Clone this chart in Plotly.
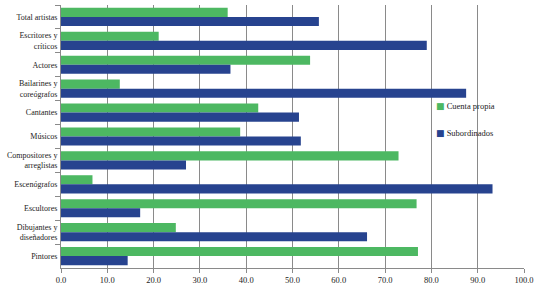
import plotly.graph_objects as go

categories = ["Total artistas", "Escritores y<br>críticos", "Actores", "Bailarines y<br>coreógrafos",
              "Cantantes", "Músicos", "Compositores y<br>arreglistas", "Escenógrafos",
              "Escultores", "Dibujantes y<br>diseñadores", "Pintores"]
cuenta_propia = [36.0, 21.1, 53.8, 12.7, 42.6, 38.7, 72.9, 6.8, 76.8, 24.8, 77.1]
subordinados = [55.7, 79.0, 36.6, 87.5, 51.4, 51.8, 27.0, 93.2, 17.1, 66.1, 14.4]
series_names = ["Cuenta propia", "Subordinados"]
colors = ["#4DB862", "#27438F"]
x_ticks = [0, 10, 20, 30, 40, 50, 60, 70, 80, 90, 100]

fig = go.Figure()
for name, vals, col in zip(series_names, [cuenta_propia, subordinados], colors):
    fig.add_trace(go.Bar(y=categories, x=vals, orientation="h", name=name,
                         marker=dict(color=col, line=dict(width=0)), showlegend=False))

# legend drawn as annotations (small square + label), matching the reference style
for i, (name, col) in enumerate(zip(series_names, colors)):
    fig.add_annotation(xref="paper", yref="paper", x=0.805, y=0.615 - i * 0.103,
                       xanchor="left", yanchor="middle", showarrow=False,
                       text=f"<span style='color:{col};font-family:DejaVu Sans;font-size:9px'>■</span> {name}",
                       font=dict(family="Liberation Serif", size=8.5, color="#222222"))

fig.update_layout(
    width=542, height=302,
    margin=dict(l=61, r=18, t=5, b=34),
    barmode="group", bargap=0.24, bargroupgap=0,
    plot_bgcolor="white", paper_bgcolor="white",
    font=dict(family="Liberation Serif", size=8, color="#222222"),
    showlegend=False, hovermode=False,
    xaxis=dict(range=[0, 100], tickvals=x_ticks, ticktext=[f"{v:.1f}" for v in x_ticks],
               showgrid=True, gridcolor="#8a8a8a", gridwidth=1, zeroline=False,
               showline=True, linecolor="#8a8a8a", ticks="outside", ticklen=4,
               tickcolor="#8a8a8a", tickfont=dict(size=8.5), automargin=False),
    yaxis=dict(autorange="reversed", showline=True, linecolor="#8a8a8a", ticks="outside",
               tickson="boundaries", ticklen=5, tickcolor="#8a8a8a", showgrid=False,
               tickfont=dict(size=8), automargin=False, ticklabelstandoff=1),
)
fig.write_html("out.html", config={"displayModeBar": False, "staticPlot": True},
               post_script="document.body.style.margin='0';")
